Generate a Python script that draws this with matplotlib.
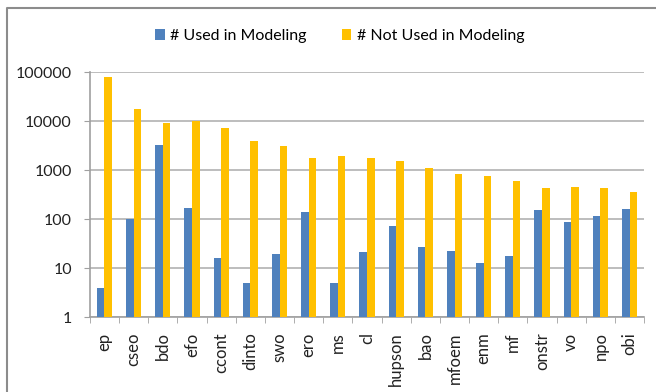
import numpy as np
import matplotlib.pyplot as plt
from matplotlib.lines import Line2D

# ontologies and counts
onts = ["ep", "cseo", "bdo", "efo", "ccont", "dinto", "swo", "ero", "ms", "cl",
        "hupson", "bao", "mfoem", "enm", "mf", "onstr", "vo", "npo", "obi"]
used = [4, 100, 3200, 170, 16, 5, 19, 140, 5, 21, 73, 27, 22, 13, 18, 150, 88, 115, 160]
not_used = [80000, 18000, 9000, 10000, 7200, 4000, 3100, 1800, 1900, 1750,
            1500, 1080, 850, 750, 600, 440, 460, 430, 360]

plt.rcParams['font.family'] = ['Lato', 'DejaVu Sans']

fig = plt.figure(figsize=(6.56, 3.92), dpi=100)
ax = fig.add_axes([0.137, 0.191, 0.845, 0.625])

x = np.arange(len(onts))
w = 0.26
ax.bar(x - w/2, used, w, color="#4F81BD", label="# Used in Modeling", zorder=3)
ax.bar(x + w/2, not_used, w, color="#FFC000", label="# Not Used in Modeling", zorder=3)

ax.set_yscale("log")
ax.set_ylim(1, 100000)
ax.set_xlim(-0.5, len(onts) - 0.5)
ax.set_yticks([1, 10, 100, 1000, 10000, 100000])
ax.set_yticklabels(["1", "10", "100", "1000", "10000", "100000"], fontsize=11.5, color="#222222")
ax.minorticks_off()
ax.yaxis.grid(True, color="#B8B8B8", linewidth=1.3, zorder=0)
ax.tick_params(axis="y", length=4, color="#A0A0A0", pad=9)

ax.set_xticks(x)
ax.set_xticklabels(onts, rotation=90, fontsize=12, color="#222222")
ax.set_xticks(np.arange(-0.5, len(onts)), minor=True)
ax.tick_params(axis="x", which="major", length=0, pad=11)
ax.tick_params(axis="x", which="minor", length=4, color="#A0A0A0")

for s in ["top", "right"]:
    ax.spines[s].set_visible(False)
for s in ["left", "bottom"]:
    ax.spines[s].set_color("#A0A0A0")
    ax.spines[s].set_linewidth(1.2)

fig.legend(loc="center", bbox_to_anchor=(0.518, 0.908), ncol=2, frameon=False,
           fontsize=11.5, handlelength=0.6, handleheight=0.6, columnspacing=2.2,
           handletextpad=0.35)

# chart frame (only left and top edges are visible in the crop)
fig.add_artist(Line2D([0.011, 0.011, 1.0], [0.0, 0.98, 0.98], transform=fig.transFigure,
                      color="#8C8C8C", linewidth=1.5))

fig.savefig("out.png", dpi=100)
